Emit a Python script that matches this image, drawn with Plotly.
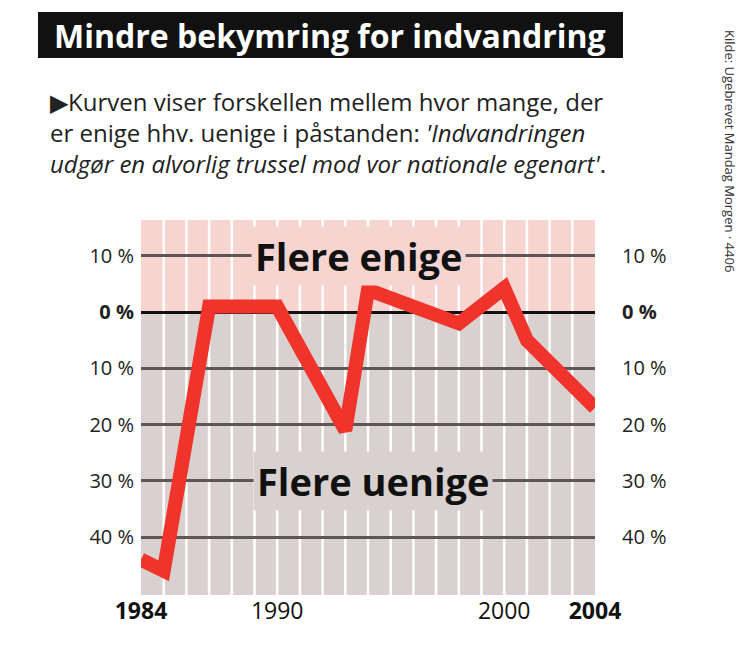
import plotly.graph_objects as go

years = [1984, 1985, 1987, 1990, 1993, 1994, 1998, 2000, 2001, 2004]
values = [-44, -46, 1, 1, -21, 4, -2, 4.3, -5, -17]
ytick_vals = [10, 0, -10, -20, -30, -40]
ytick_text = ["10 %", "<b>0 %</b>", "10 %", "20 %", "30 %", "40 %"]
xtick_vals = [1984, 1990, 2000, 2004]
xtick_text = ["<b>1984</b>", "1990", "2000", "<b>2004</b>"]

PINK = "#f6d5d1"
GRAY = "#d8d1cf"
Y0, Y1 = -50.3, 16.4

fig = go.Figure()
fig.add_trace(go.Scatter(x=years, y=values, mode="lines",
                         line=dict(color="#f0342b", width=14), showlegend=False))
fig.add_trace(go.Scatter(x=[1984], y=[0], yaxis="y2", mode="markers",
                         marker=dict(opacity=0), showlegend=False, hoverinfo="skip"))

axis_font = dict(family="Open Sans", size=20, color="#222")
fig.update_layout(
    width=750, height=659, margin=dict(l=0, r=0, t=0, b=0),
    paper_bgcolor="white", plot_bgcolor="rgba(0,0,0,0)",
    font=dict(family="Open Sans"),
    xaxis=dict(domain=[133/750, 587/750], range=[1984, 2004], automargin=False,
               showgrid=False, zeroline=False,
               tickmode="array", tickvals=xtick_vals, ticktext=xtick_text,
               tickfont=dict(family="Open Sans", size=23, color="#111"), ticks=""),
    yaxis=dict(domain=[1-587/659, 1-212/659], range=[Y0, Y1], automargin=False,
               tickmode="array", tickvals=ytick_vals, ticktext=ytick_text,
               showgrid=True, gridcolor="#5e5654", gridwidth=3,
               zeroline=True, zerolinecolor="#111", zerolinewidth=3,
               tickfont=axis_font, ticklabelstandoff=6),
    yaxis2=dict(overlaying="y", side="right", range=[Y0, Y1], anchor="x", automargin=False,
                tickmode="array", tickvals=ytick_vals, ticktext=ytick_text,
                showgrid=False, zeroline=False, tickfont=axis_font, ticklabelstandoff=26),
)
fig.add_shape(type="rect", xref="x", yref="y", x0=1984, x1=2004, y0=0, y1=Y1,
              fillcolor=PINK, line_width=0, layer="below")
fig.add_shape(type="rect", xref="x", yref="y", x0=1984, x1=2004, y0=Y0, y1=0,
              fillcolor=GRAY, line_width=0, layer="below")
for yr in range(1985, 2004):
    fig.add_shape(type="line", xref="x", yref="y", x0=yr, x1=yr, y0=Y0, y1=Y1,
                  line=dict(color="white", width=2.5), layer="below")

fig.add_annotation(x=1993.6, y=10, xref="x", yref="y", text="<b>Flere enige</b>",
                   showarrow=False, bgcolor=PINK, borderpad=3,
                   xanchor="center", yanchor="middle",
                   font=dict(family="Open Sans", size=38, color="#111"))
fig.add_annotation(x=1994.2, y=-30, xref="x", yref="y", text="<b>Flere uenige</b>",
                   showarrow=False, bgcolor=GRAY, borderpad=3,
                   xanchor="center", yanchor="middle",
                   font=dict(family="Open Sans", size=38, color="#111"))

# title box
fig.add_shape(type="rect", xref="paper", yref="paper", x0=30/750, x1=615/750,
              y0=1-50/659, y1=1-4/659, fillcolor="#111", line_width=0)
fig.add_annotation(x=322/750, y=1-28/659, xref="paper", yref="paper",
                   xanchor="center", yanchor="middle",
                   text="<b>Mindre bekymring for indvandring</b>", showarrow=False,
                   font=dict(family="Open Sans", size=32, color="white"))
sub = ("▶Kurven viser forskellen mellem hvor mange, der<br>"
       "er enige hhv. uenige i påstanden: <i>'Indvandringen</i><br>"
       "<i>udgør en alvorlig trussel mod vor nationale egenart'</i>.")
fig.add_annotation(x=40/750, y=1-75/659, xref="paper", yref="paper", text=sub,
                   showarrow=False, xanchor="left", yanchor="top", align="left",
                   font=dict(family="Open Sans", size=24, color="#222"))
fig.add_annotation(x=722/750, y=1-20/659, xref="paper", yref="paper",
                   text="Kilde: Ugebrevet Mandag Morgen · 4406", textangle=90,
                   showarrow=False, xanchor="center", yanchor="top",
                   font=dict(family="Open Sans", size=13, color="#333"))
fig.add_shape(type="line", xref="paper", yref="paper", x0=0.995, x1=0.995, y0=0, y1=1,
              line=dict(color="#888", width=3))

fig.write_html("out.html")
